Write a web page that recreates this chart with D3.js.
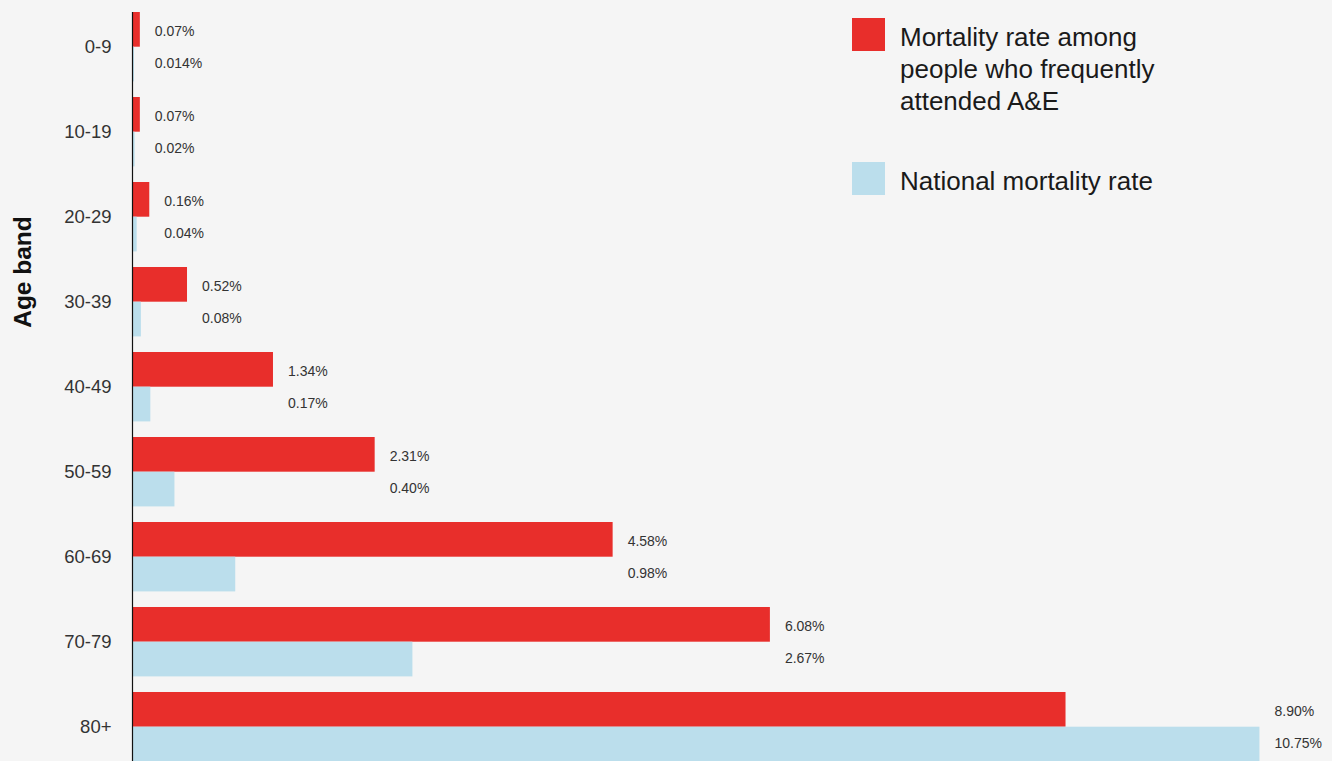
<!DOCTYPE html>
<html>
<head>
<meta charset="utf-8">
<script src="https://cdn.jsdelivr.net/npm/d3@7"></script>
<style>
  html, body { margin: 0; padding: 0; background: #f5f5f5; }
  svg { display: block; font-family: "Liberation Sans", Arial, Helvetica, sans-serif; }
</style>
</head>
<body>
<svg id="chart" width="1332" height="761"></svg>
<script>
// Age bands and mortality rates (%)
const ageBands = ["0-9", "10-19", "20-29", "30-39", "40-49", "50-59", "60-69", "70-79", "80+"];
const frequentAE = [0.07, 0.07, 0.16, 0.52, 1.34, 2.31, 4.58, 6.08, 8.90];
const national = [0.014, 0.02, 0.04, 0.08, 0.17, 0.40, 0.98, 2.67, 10.75];
const frequentLabels = ["0.07%", "0.07%", "0.16%", "0.52%", "1.34%", "2.31%", "4.58%", "6.08%", "8.90%"];
const nationalLabels = ["0.014%", "0.02%", "0.04%", "0.08%", "0.17%", "0.40%", "0.98%", "2.67%", "10.75%"];
const seriesColors = ["#e82e2b", "#bbdeec"];

const svg = d3.select("#chart");
const axisX = 132.5;

const x = d3.scaleLinear().domain([0, 12]).range([axisX, axisX + 1258]);
const y = d3.scaleBand().domain(ageBands).range([12, 761.4]).paddingInner(0.1835).paddingOuter(0);
const sub = d3.scaleBand().domain(["frequent", "national"]).range([0, y.bandwidth()]);

const rows = ageBands.map((band, i) => ({
  band,
  values: [
    { key: "frequent", value: frequentAE[i], label: frequentLabels[i], color: seriesColors[0] },
    { key: "national", value: national[i], label: nationalLabels[i], color: seriesColors[1] }
  ]
}));

const groups = svg.append("g").selectAll("g")
  .data(rows).join("g")
  .attr("transform", d => `translate(0,${y(d.band)})`);

groups.selectAll("rect")
  .data(d => d.values).join("rect")
  .attr("x", x(0))
  .attr("y", d => sub(d.key))
  .attr("width", d => x(d.value) - x(0))
  .attr("height", sub.bandwidth())
  .attr("fill", d => d.color);

// value labels sit just past the longer bar of each group
groups.each(function(d) {
  const maxEnd = x(d3.max(d.values, v => v.value));
  d3.select(this).selectAll("text.val")
    .data(d.values).join("text")
    .attr("class", "val")
    .attr("x", maxEnd + 15)
    .attr("y", v => sub(v.key) + sub.bandwidth() / 2 + (v.key === "frequent" ? 2 : -1))
    .attr("dy", "0.35em")
    .attr("font-size", 14)
    .attr("fill", "#333")
    .text(v => v.label);
});

// category axis
const yAxis = d3.axisLeft(y).tickSize(0).tickPadding(21);
const ax = svg.append("g").attr("transform", `translate(${axisX},0)`).call(yAxis);
ax.select(".domain").remove();
ax.selectAll("text").attr("font-size", 18.5).attr("fill", "#333").attr("font-family", "Liberation Sans, Arial, sans-serif");

svg.append("line")
  .attr("x1", axisX).attr("x2", axisX)
  .attr("y1", 12).attr("y2", 761)
  .attr("stroke", "#111").attr("stroke-width", 1.2);

// axis title
svg.append("text")
  .attr("transform", "translate(31,272) rotate(-90)")
  .attr("text-anchor", "middle")
  .attr("font-size", 24.5)
  .attr("font-weight", "bold")
  .attr("fill", "#111")
  .text("Age band");

// legend
const legend = svg.append("g");
const legendItems = [
  { color: seriesColors[0], lines: ["Mortality rate among", "people who frequently", "attended A&E"], top: 18 },
  { color: seriesColors[1], lines: ["National mortality rate"], top: 162 }
];
legendItems.forEach(item => {
  legend.append("rect")
    .attr("x", 852).attr("y", item.top)
    .attr("width", 33).attr("height", 33)
    .attr("fill", item.color);
  const t = legend.append("text")
    .attr("x", 900)
    .attr("font-size", 26)
    .attr("fill", "#1a1a1a");
  item.lines.forEach((line, i) => {
    t.append("tspan").attr("x", 900).attr("y", item.top + 27.5 + i * 32).text(line);
  });
});
</script>
</body>
</html>
